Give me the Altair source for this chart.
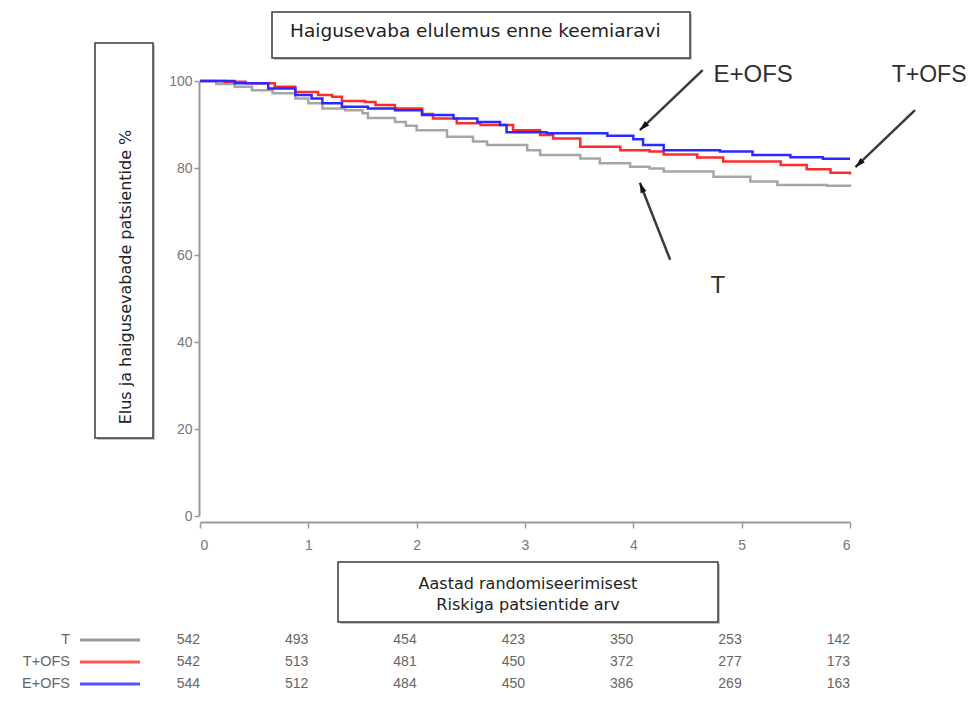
import math
import altair as alt
import pandas as pd

# ---------------- data ----------------
t_T = [0, 0.15, 0.32, 0.48, 0.67, 0.88, 1.0, 1.13, 1.34, 1.5, 1.55, 1.8, 1.9, 2.0, 2.28, 2.52, 2.65, 3.02, 3.14, 3.51, 3.69, 3.97, 4.15, 4.28, 4.74, 5.08, 5.33, 5.79, 6.0]
v_T = [100, 99.3, 98.7, 97.9, 97.2, 96.0, 94.9, 93.7, 93.3, 92.6, 91.5, 90.6, 89.7, 88.7, 87.2, 86.1, 85.3, 84.1, 83.0, 82.2, 81.1, 80.3, 79.9, 79.2, 78.0, 76.9, 76.1, 75.9, 75.7]

t_TO = [0, 0.23, 0.42, 0.69, 0.88, 1.09, 1.22, 1.31, 1.52, 1.62, 1.8, 2.05, 2.15, 2.37, 2.59, 2.89, 3.14, 3.26, 3.51, 3.88, 4.15, 4.28, 4.59, 4.83, 5.36, 5.6, 5.82, 6.0]
v_TO = [100, 99.8, 99.5, 98.7, 97.5, 96.8, 96.4, 95.4, 95.2, 94.5, 93.7, 92.4, 91.4, 90.3, 89.9, 88.7, 87.6, 86.8, 84.9, 84.1, 83.8, 83.1, 82.4, 81.5, 80.7, 79.7, 78.9, 78.5]

t_EO = [0, 0.32, 0.63, 0.88, 1.03, 1.13, 1.31, 1.55, 1.8, 2.05, 2.34, 2.56, 2.77, 2.83, 3.2, 3.76, 4.0, 4.09, 4.28, 4.8, 5.1, 5.45, 5.75, 6.0]
v_EO = [100, 99.5, 98.3, 96.8, 96.0, 94.9, 94.1, 93.7, 93.3, 92.2, 91.4, 90.6, 89.9, 88.2, 88.0, 87.4, 86.6, 85.3, 84.1, 83.8, 83.0, 82.5, 82.1, 82.1]

series = ["T", "T+OFS", "E+OFS"]
colors = ["#a6a6a6", "#ff2a2a", "#2a2aff"]
legend_colors = ["#9a9a9a", "#ff5555", "#5555ff"]

risk_years = [0, 1, 2, 3, 4, 5, 6]
risk_T = [542, 493, 454, 423, 350, 253, 142]
risk_TO = [542, 513, 481, 450, 372, 277, 173]
risk_EO = [544, 512, 484, 450, 386, 269, 163]

title_text = "Haigusevaba elulemus enne keemiaravi"
y_title = "Elus ja haigusevabade  patsientide  %"
x_title_lines = ["Aastad randomiseerimisest", "Riskiga patsientide arv"]

# annotations (data units): label, text x, text y, align, size, arrow tail x/y, head x/y
ann_labels = ["E+OFS", "T+OFS", "T"]
ann_tx = [4.74, 6.385, 4.78]
ann_ty = [101.4, 101.4, 52.8]
ann_align = ["left", "left", "center"]
ann_size = [24, 23, 24]
arr_x1 = [4.64, 6.60, 4.34]
arr_y1 = [102.5, 93.3, 58.9]
arr_x2 = [4.06, 6.05, 4.06]
arr_y2 = [88.7, 80.2, 76.6]

# ---------------- layout ----------------
W, H = 650, 435
PAD_L, PAD_T = 192, 73
PAD_R, PAD_B = 121, 177
FONT = "Liberation Sans"
WIDE = "DejaVu Sans"

curves = pd.DataFrame(
    [{"t": t, "v": v, "s": series[0]} for t, v in zip(t_T, v_T)]
    + [{"t": t, "v": v, "s": series[1]} for t, v in zip(t_TO, v_TO)]
    + [{"t": t, "v": v, "s": series[2]} for t, v in zip(t_EO, v_EO)]
)

xscale = alt.Scale(domain=[0, 6], nice=False, zero=False)
yscale = alt.Scale(domain=[0, 100], nice=False)

axis_common = dict(
    grid=False, title=None, domainColor="#9a9a9a", domainWidth=2,
    tickColor="#9a9a9a", tickWidth=1.5, labelColor="#777777",
    labelFont=FONT, labelFontSize=14,
)

lines = alt.Chart(curves).mark_line(interpolate="step-after", strokeWidth=2.5).encode(
    x=alt.X("t:Q", scale=xscale,
            axis=alt.Axis(values=risk_years, format="d", offset=6, tickSize=6,
                          labelPadding=10, **axis_common)),
    y=alt.Y("v:Q", scale=yscale,
            axis=alt.Axis(values=[0, 20, 40, 60, 80, 100], offset=1, tickSize=5,
                          labelPadding=2, **axis_common)),
    color=alt.Color("s:N", scale=alt.Scale(domain=series, range=colors), legend=None),
    detail="s:N",
)

# annotation arrows
px_per_x = W / 6.0
px_per_y = H / 100.0
angles = []
for x1, y1, x2, y2 in zip(arr_x1, arr_y1, arr_x2, arr_y2):
    dx = (x2 - x1) * px_per_x
    dy = -(y2 - y1) * px_per_y
    a = math.degrees(math.atan2(dx, -dy)) % 360
    angles.append(a)

arr_df = pd.DataFrame({"x1": arr_x1, "y1": arr_y1, "x2": arr_x2, "y2": arr_y2, "ang": angles})
arrow_lines = alt.Chart(arr_df).mark_rule(color="#3a3a3a", strokeWidth=2.5).encode(
    x=alt.X("x1:Q", scale=xscale), y=alt.Y("y1:Q", scale=yscale),
    x2="x2:Q", y2="y2:Q",
)
arrow_heads = alt.Chart(arr_df).mark_point(
    shape="M0,0L-0.65,2.1L0.65,2.1Z", filled=True, color="#111111", size=90, opacity=1
).encode(
    x=alt.X("x2:Q", scale=xscale), y=alt.Y("y2:Q", scale=yscale),
    angle=alt.Angle("ang:Q", scale=None),
)

ann_layers = []
for lab, tx, ty, al, fs in zip(ann_labels, ann_tx, ann_ty, ann_align, ann_size):
    d = pd.DataFrame({"x": [tx], "y": [ty], "lab": [lab]})
    ann_layers.append(
        alt.Chart(d).mark_text(align=al, baseline="middle", font=FONT, fontSize=fs,
                               color="#2f2f2f").encode(
            x=alt.X("x:Q", scale=xscale), y=alt.Y("y:Q", scale=yscale), text="lab:N")
    )

one = alt.Data(values=[{"a": 1}])


def box(x1, x2, y1, y2):
    shadow = alt.Chart(one).mark_rect(fill="#c4c4c4").encode(
        x=alt.value(x1 + 2), x2=alt.value(x2 + 2), y=alt.value(y1 + 2), y2=alt.value(y2 + 2))
    frame = alt.Chart(one).mark_rect(fill="white", stroke="#3a3a3a", strokeWidth=1.5).encode(
        x=alt.value(x1), x2=alt.value(x2), y=alt.value(y1), y2=alt.value(y2))
    return [shadow, frame]


def label(txt, x, y, size, align="center", angle=0, font=WIDE, color="#222222"):
    return alt.Chart(one).mark_text(align=align, baseline="middle", font=font,
                                    fontSize=size, color=color, angle=angle).encode(
        x=alt.value(x), y=alt.value(y), text=alt.value(txt))


deco = []
deco += box(72, 490, -69, -23)
deco.append(label(title_text, 90, -50, 18.5, align="left"))
deco += box(-105, -47, -38, 357)
deco.append(label(y_title, -74, 196, 16, angle=270))
deco += box(138, 518, 481, 541)
deco.append(label(x_title_lines[0], 328, 503, 16))
deco.append(label(x_title_lines[1], 328, 524, 16))

# risk table
row_y = [559, 581, 603]
risk_vals = [risk_T, risk_TO, risk_EO]
table = []
for name, lc, ry, vals in zip(series, legend_colors, row_y, risk_vals):
    table.append(label(name, -130, ry, 14.5, align="right", font=FONT, color="#666666"))
    table.append(alt.Chart(one).mark_rule(color=lc, strokeWidth=3).encode(
        x=alt.value(-120), x2=alt.value(-60), y=alt.value(ry)))
    d = pd.DataFrame({"yr": risk_years, "n": vals})
    table.append(alt.Chart(d).mark_text(align="right", baseline="middle", font=FONT,
                                        fontSize=14, color="#666666").encode(
        x=alt.X("yr:Q", scale=xscale), y=alt.value(ry), text="n:Q"))

chart = alt.layer(
    *deco, lines, arrow_lines, arrow_heads, *ann_layers, *table
).properties(
    width=W, height=H,
    autosize=alt.AutoSizeParams(type="none"),
    padding={"left": PAD_L, "top": PAD_T, "right": PAD_R, "bottom": PAD_B},
).configure(background="white").configure_view(stroke=None)

chart.save("out.html", embed_options={"renderer": "svg", "actions": False})
